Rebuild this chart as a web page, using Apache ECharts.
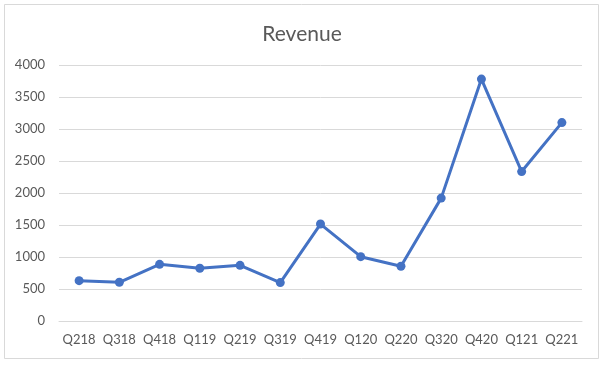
<!DOCTYPE html>
<html>
<head>
<meta charset="utf-8">
<script src="https://cdn.jsdelivr.net/npm/echarts@6/dist/echarts.min.js"></script>
<style>
html,body{margin:0;padding:0;background:#fff;}
#c{width:604px;height:365px;}
</style>
</head>
<body>
<div id="c"></div>
<script>
var title = "Revenue";
var categories = ["Q218","Q318","Q418","Q119","Q219","Q319","Q419","Q120","Q220","Q320","Q420","Q121","Q221"];
var revenue = [630, 605, 885, 825, 870, 600, 1515, 1005, 855, 1920, 3780, 2335, 3100];
var yTicks = { min: 0, max: 4000, interval: 500 };

var chart = echarts.init(document.getElementById('c'), null, {renderer: 'canvas'});
var font = 'Lato, "Open Sans", sans-serif';
chart.setOption({
  animation: false,
  backgroundColor: '#ffffff',
  graphic: [{
    type: 'rect',
    shape: { x: 4.5, y: 4.5, width: 594, height: 354 },
    style: { fill: 'none', stroke: '#d9d9d9', lineWidth: 1 },
    silent: true
  }],
  title: {
    text: title,
    left: 'center',
    top: 19,
    textStyle: { fontFamily: font, fontSize: 21, fontWeight: 'normal', color: '#595959' }
  },
  grid: { left: 59, right: 22, top: 65, bottom: 44, containLabel: false },
  xAxis: {
    type: 'category',
    data: categories,
    boundaryGap: true,
    axisLine: { show: true, lineStyle: { color: '#d9d9d9', width: 1 } },
    axisTick: { show: false },
    axisLabel: { color: '#595959', fontFamily: font, fontSize: 13, margin: 12, interval: 0 },
    splitLine: { show: false }
  },
  yAxis: {
    type: 'value',
    min: yTicks.min, max: yTicks.max, interval: yTicks.interval,
    axisLine: { show: false },
    axisTick: { show: false },
    axisLabel: { color: '#595959', fontFamily: font, fontSize: 13, margin: 14,
      formatter: function (v) { return String(v); } },
    splitLine: { show: true, lineStyle: { color: '#d9d9d9', width: 1 } }
  },
  series: [{
    type: 'line',
    name: title,
    data: revenue,
    symbol: 'circle',
    symbolSize: 9,
    lineStyle: { color: '#4472C4', width: 3 },
    itemStyle: { color: '#4472C4' }
  }]
});
</script>
</body>
</html>
